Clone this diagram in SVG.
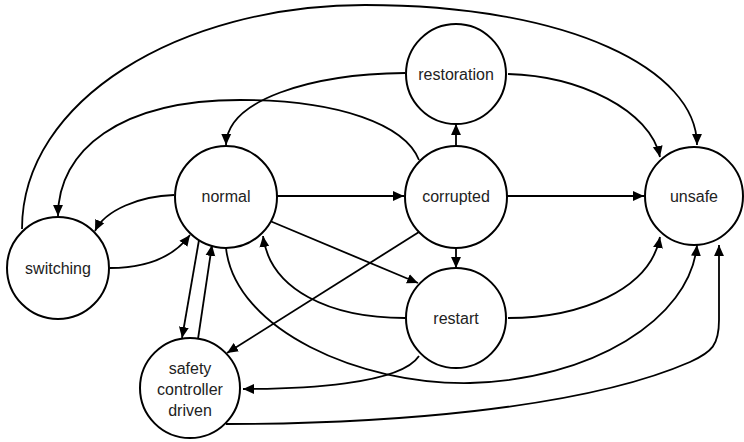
<svg xmlns="http://www.w3.org/2000/svg" width="744" height="442" viewBox="0 0 744 442">
<defs>
<marker id="arr" viewBox="0 0 10 10" refX="10" refY="5" markerWidth="11" markerHeight="11" markerUnits="userSpaceOnUse" orient="auto">
<path d="M0,0.5 L10,5 L0,9.5 Z" fill="#000"/>
</marker>
<style>
.n circle{fill:#fff;stroke:#000;stroke-width:2}
.n text{font-family:"Liberation Sans",Arial,sans-serif;font-size:16px;fill:#222;text-anchor:middle}
#edges path,#edges line{fill:none;stroke:#000;stroke-width:1.8;marker-end:url(#arr)}
</style>
</defs>
<rect width="744" height="442" fill="#fff"/>
<g id="edges">
<path d="M 22 229 C 22 100, 180 5, 365 5 C 570 5, 697 70, 697 145"/>
<path d="M 419 160 C 405 125, 340 100, 240 100 C 120 100, 58 150, 58 216"/>
<path d="M 405 73 C 310 74, 227 100, 226 145"/>
<path d="M 508 74 C 580 76, 650 110, 660 157"/>
<line x1="456" y1="146" x2="456" y2="124"/>
<line x1="277" y1="196" x2="404" y2="196"/>
<line x1="507" y1="196" x2="644" y2="196"/>
<line x1="456" y1="248" x2="456" y2="268"/>
<path d="M 174 195 C 140 196, 105 210, 95 231"/>
<path d="M 110 268 C 150 268, 175 255, 190 235"/>
<line x1="199" y1="240" x2="182" y2="338"/>
<line x1="198" y1="339" x2="212" y2="245"/>
<path d="M 226 248 C 235 330, 360 385, 470 383 C 590 380, 690 320, 697 245"/>
<path d="M 405 318 C 330 318, 270 290, 263 236"/>
<line x1="270" y1="221" x2="418" y2="283"/>
<line x1="419" y1="232" x2="227" y2="353"/>
<path d="M 508 318 C 580 318, 650 290, 660 237"/>
<path d="M 419 356 C 400 385, 300 389, 243 389"/>
<path d="M 226 424 C 380 424, 580 410, 690 362 C 712 352, 719 345, 719 320 L 719 245"/>
</g>
<g id="normal" class="n"><circle cx="226" cy="197" r="51"/><text x="226" y="202">normal</text></g>
<g id="corrupted" class="n"><circle cx="456" cy="197" r="51"/><text x="456" y="202">corrupted</text></g>
<g id="restoration" class="n"><circle cx="456" cy="74" r="50"/><text x="456" y="80">restoration</text></g>
<g id="unsafe" class="n"><circle cx="694" cy="196" r="49"/><text x="694" y="202">unsafe</text></g>
<g id="restart" class="n"><circle cx="456" cy="318" r="50"/><text x="456" y="324">restart</text></g>
<g id="switching" class="n"><circle cx="58" cy="268" r="51"/><text x="58" y="274">switching</text></g>
<g id="safety" class="n"><circle cx="190" cy="388" r="50"/><text x="190" y="374">safety</text><text x="190" y="395">controller</text><text x="190" y="416">driven</text></g>
</svg>
